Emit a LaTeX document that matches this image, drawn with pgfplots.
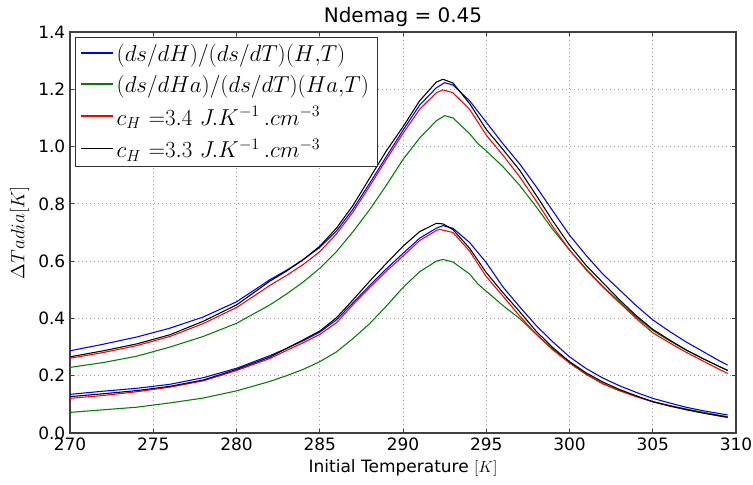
\documentclass[border=0pt]{standalone}
\usepackage{fontspec}
\setmainfont{DejaVu Sans}
\usepackage{pgfplots}
\pgfplotsset{compat=1.18}
\definecolor{mplgreen}{rgb}{0,0.5,0}
\definecolor{mplblue}{rgb}{0,0,1}
\begin{document}
\begin{tikzpicture}
\begin{axis}[
  at={(0,0)}, anchor=south west,
  scale only axis, width=499.5pt, height=300.75pt,
  xmin=270, xmax=310, ymin=0, ymax=1.4,
  xtick={270,275,280,285,290,295,300,305,310},
  ytick={0,0.2,0.4,0.6,0.8,1.0,1.2,1.4},
  /pgf/number format/assume math mode=true,
  yticklabel style={/pgf/number format/fixed,/pgf/number format/fixed zerofill,/pgf/number format/precision=1},
  xticklabel style={/pgf/number format/1000 sep={}},
  tick label style={font=\fontsize{12.75}{15}\selectfont},
  xlabel style={font=\fontsize{12.75}{15}\selectfont},
  ylabel style={font=\fontsize{15}{18}\selectfont},
  xlabel={Initial Temperature $[K]$},
  ylabel={$\Delta Tadia[K]$},
  title={Ndemag = 0.45},
  every axis title shift=0pt,
  title style={font=\fontsize{15}{18}\selectfont, at={(0.5,1)}, anchor=base, yshift=7pt},
  grid=major,
  major grid style={gray!75, line width=0.6pt, dash pattern=on 1pt off 2pt},
  axis line style={black!75, line width=0.9pt},
  tick align=inside,
  major tick length=3pt,
  tick style={black!75, line width=0.6pt},
  legend cell align=left,
  legend style={at={(0,1)}, anchor=north west, xshift=3.75pt, yshift=-3.75pt,
    draw=black!80, font=\fontsize{17.3}{20}\selectfont,
    row sep=5pt, inner xsep=4pt, inner ysep=3pt},
  legend image code/.code={\draw[#1] (0pt,0.5pt) -- (24pt,0.5pt);},
  every axis plot/.append style={line width=0.8pt},
]
\addlegendimage{draw=mplblue, line width=1pt}
\addlegendentry{$(ds/dH)/(ds/dT)(H{,}T)$}
\addlegendimage{draw=mplgreen, line width=1pt}
\addlegendentry{$(ds/dHa)/(ds/dT)(Ha{,}T)$}
\addlegendimage{draw=red, line width=1pt}
\addlegendentry{$c_H\ {=}3.4\ J.K^{-1}\,.cm^{-3}$}
\addlegendimage{draw=black, line width=1pt}
\addlegendentry{$c_H\ {=}3.3\ J.K^{-1}\,.cm^{-3}$}
% upper group
\addplot[mplblue, forget plot] coordinates {(270,0.287)(272,0.310)(274,0.335)(276,0.366)(278,0.405)(280,0.458)(282,0.535)(283,0.568)(284,0.605)(285,0.648)(286,0.705)(287,0.782)(288,0.872)(289,0.965)(290,1.057)(291,1.145)(292,1.205)(292.5,1.223)(293,1.215)(294,1.160)(295,1.085)(296,1.010)(297,0.940)(298,0.860)(299,0.775)(300,0.691)(301,0.620)(302,0.555)(303,0.500)(304,0.445)(305,0.395)(306,0.355)(307,0.318)(308,0.285)(309,0.252)(309.5,0.237)};
\addplot[mplgreen, forget plot] coordinates {(270,0.229)(272,0.246)(274,0.268)(276,0.300)(278,0.337)(280,0.383)(282,0.447)(283,0.485)(284,0.527)(285,0.575)(286,0.633)(287,0.703)(288,0.780)(289,0.865)(290,0.955)(291,1.030)(292,1.090)(292.5,1.108)(293,1.100)(294,1.045)(294.5,1.010)(295,0.985)(296,0.930)(297,0.865)(298,0.790)(299,0.710)(300,0.639)(301,0.573)(302,0.512)(303,0.458)(304,0.405)(305,0.358)(306,0.322)(307,0.290)(308,0.260)(309,0.232)(309.5,0.219)};
\addplot[red, forget plot] coordinates {(270,0.261)(272,0.281)(274,0.305)(276,0.337)(278,0.382)(280,0.438)(282,0.515)(283,0.550)(284,0.588)(285,0.633)(286,0.695)(287,0.772)(288,0.862)(289,0.955)(290,1.046)(291,1.130)(292,1.188)(292.4,1.198)(293,1.188)(294,1.130)(295,1.040)(296,0.970)(297,0.895)(298,0.810)(299,0.720)(300,0.639)(301,0.570)(302,0.510)(303,0.455)(304,0.400)(305,0.350)(306,0.315)(307,0.282)(308,0.252)(309,0.222)(309.5,0.208)};
\addplot[black, forget plot] coordinates {(270,0.266)(272,0.287)(274,0.311)(276,0.343)(278,0.390)(280,0.447)(282,0.530)(283,0.565)(284,0.605)(285,0.652)(286,0.715)(287,0.795)(288,0.890)(289,0.985)(290,1.069)(291,1.160)(292,1.225)(292.4,1.235)(293,1.222)(294,1.150)(295,1.060)(296,0.990)(297,0.918)(298,0.830)(299,0.740)(300,0.656)(301,0.585)(302,0.525)(303,0.465)(304,0.410)(305,0.362)(306,0.325)(307,0.290)(308,0.260)(309,0.232)(309.5,0.218)};
% lower group
\addplot[mplblue, forget plot] coordinates {(270,0.135)(272,0.146)(274,0.156)(276,0.170)(278,0.193)(280,0.226)(282,0.270)(283,0.295)(284,0.322)(285,0.352)(286,0.395)(287,0.455)(288,0.515)(289,0.573)(290,0.627)(291,0.680)(292,0.715)(292.4,0.724)(293,0.715)(294,0.665)(295,0.595)(296,0.510)(297,0.441)(298,0.375)(299,0.318)(300,0.266)(301,0.225)(302,0.192)(303,0.165)(304,0.142)(305,0.121)(306,0.105)(307,0.090)(308,0.078)(309,0.068)(309.5,0.063)};
\addplot[mplgreen, forget plot] coordinates {(270,0.072)(272,0.081)(274,0.090)(276,0.105)(278,0.122)(280,0.147)(282,0.180)(283,0.200)(284,0.222)(285,0.249)(286,0.283)(287,0.330)(288,0.382)(289,0.443)(290,0.508)(291,0.563)(292,0.600)(292.4,0.606)(293,0.597)(294,0.555)(294.5,0.520)(295,0.495)(296,0.445)(297,0.400)(298,0.345)(299,0.293)(300,0.245)(301,0.205)(302,0.172)(303,0.148)(304,0.128)(305,0.110)(306,0.096)(307,0.084)(308,0.073)(309,0.062)(309.5,0.057)};
\addplot[red, forget plot] coordinates {(270,0.121)(272,0.131)(274,0.144)(276,0.160)(278,0.182)(280,0.218)(282,0.260)(283,0.288)(284,0.315)(285,0.344)(286,0.385)(287,0.448)(288,0.508)(289,0.565)(290,0.618)(291,0.672)(292,0.707)(292.2,0.711)(293,0.700)(294,0.635)(295,0.546)(296,0.478)(297,0.409)(298,0.345)(299,0.290)(300,0.245)(301,0.205)(302,0.172)(303,0.148)(304,0.127)(305,0.109)(306,0.094)(307,0.081)(308,0.070)(309,0.059)(309.5,0.054)};
\addplot[black, forget plot] coordinates {(270,0.127)(272,0.137)(274,0.148)(276,0.163)(278,0.185)(280,0.222)(282,0.265)(283,0.295)(284,0.325)(285,0.356)(286,0.402)(287,0.465)(288,0.530)(289,0.592)(290,0.652)(291,0.703)(292,0.732)(292.4,0.730)(293,0.710)(294,0.645)(295,0.560)(296,0.490)(297,0.424)(298,0.355)(299,0.298)(300,0.249)(301,0.210)(302,0.178)(303,0.152)(304,0.130)(305,0.109)(306,0.095)(307,0.082)(308,0.070)(309,0.060)(309.5,0.055)};
\end{axis}
\pgfresetboundingbox
\path (-52.5pt,-39pt) rectangle (512.25pt,324.75pt);
\end{tikzpicture}
\end{document}
